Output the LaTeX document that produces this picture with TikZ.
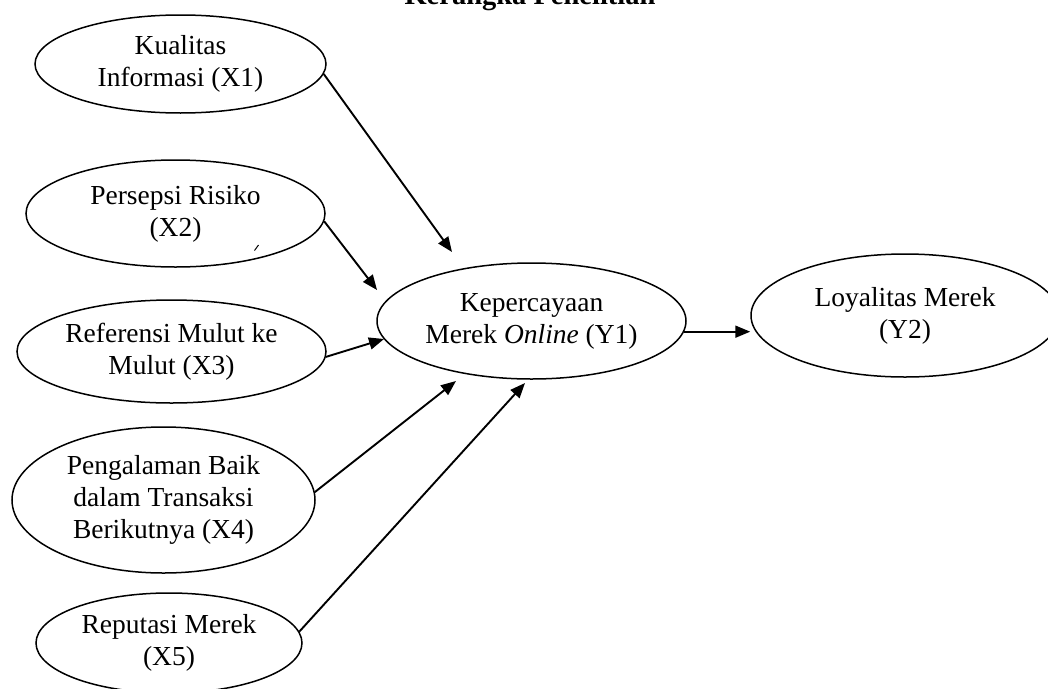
\documentclass[tikz,border=0pt]{standalone}
\usepackage{fontspec}
\setmainfont{Liberation Serif}
\usetikzlibrary{arrows.meta, shapes.geometric}

\begin{document}
\begin{tikzpicture}[x=1pt, y=-1pt, >={Triangle[length=15pt, width=12pt]},
  every node/.style={font=\fontsize{27.5}{32}\selectfont},
  var/.style={draw, ellipse, line width=1.5pt, inner sep=-6pt, align=center},
  arr/.style={->, line width=1.9pt}]

  \useasboundingbox (0,0) rectangle (1048,688);

  % Title (cut at the top edge)
  \node[font=\fontsize{28.5}{31}\selectfont\bfseries, anchor=base] (judul) at (530,5) {Kerangka Penelitian};

  % Independent variables
  \node[var, minimum width=291pt, minimum height=98pt]  (x1) at (180.5,64)  {Kualitas\\Informasi (X1)};
  \node[var, minimum width=299pt, minimum height=107pt] (x2) at (175.5,213.5) {Persepsi Risiko\\(X2)};
  \node[var, minimum width=309pt, minimum height=103pt] (x3) at (171.5,351.5) {Referensi Mulut ke\\Mulut (X3)};
  \node[var, minimum width=303pt, minimum height=146pt] (x4) at (163.5,500) {Pengalaman Baik\\dalam Transaksi\\Berikutnya (X4)};
  \node[var, minimum width=266pt, minimum height=100pt] (x5) at (169,643)   {Reputasi Merek\\(X5)};

  % Mediating and dependent variables
  \node[var, minimum width=309pt, minimum height=116pt] (y1) at (531.5,321) {Kepercayaan\\Merek \textit{Online} (Y1)};
  \node[var, minimum width=308pt, minimum height=123pt] (y2) at (905,315.5) {Loyalitas Merek\\(Y2)};

  % Arrow tips (they stop short of Y1)
  \coordinate (t1) at (452,252);
  \coordinate (t2) at (377,290);
  \coordinate (t3) at (384,339);
  \coordinate (t4) at (456,381);
  \coordinate (t5) at (525,383);

  % Paths
  \draw[arr] (x1.-4.4) -- (t1);
  \draw[arr] (x2.-3.7) -- (t2);
  \draw[arr] (x3.-2.5) -- (t3);
  \draw[arr] (x4.3)    -- (t4);
  \draw[arr] (x5.5.8)  -- (t5);
  \draw[arr] (y1.-4)   -- (y1.-4 -| y2.west);

  % Stray mark
  \draw[line width=1pt] (254.5,250.5) -- (258.5,245);

\end{tikzpicture}
\end{document}
